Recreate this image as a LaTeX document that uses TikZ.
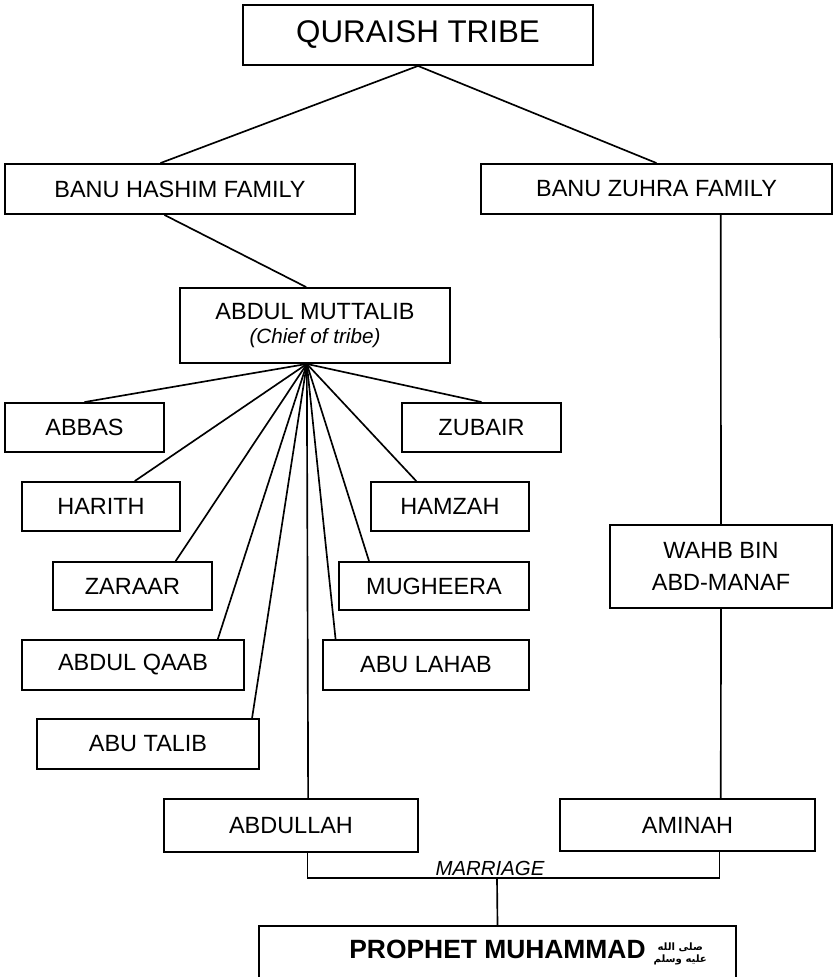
\documentclass[tikz,border=0pt]{standalone}
\usepackage{fontspec}
\setmainfont{Liberation Sans}
\newfontfamily\arabicfont[Script=Arabic]{DejaVu Sans}
\TeXXeTstate=1

\tikzset{
  kinbox/.style 2 args={draw, line width=1.4pt, inner sep=0.75pt, align=center,
    minimum width=#1*0.75pt, minimum height=#2*0.75pt,
    font=\fontsize{17.6}{24}\selectfont},
  kinline/.style={line width=1.25pt},
}

\begin{document}
\begin{tikzpicture}[x=0.75pt,y=0.75pt,yscale=-1,xscale=1]
\useasboundingbox (0,0) rectangle (833,977);
\clip (0,0) rectangle (833,977);
% Text Node
\node [kinbox={350}{60}, font=\fontsize{23.5}{28}\selectfont] (quraish) at (418,35) {QURAISH TRIBE};
% Text Node
\node [kinbox={350}{50}] (hashim) at (180,189) {BANU HASHIM FAMILY};
% Text Node
\node [kinbox={351}{50}] (zuhra) at (656.5,189) {BANU ZUHRA FAMILY};
% Text Node
\node [kinbox={270}{75}, font=\fontsize{17.6}{17.5}\selectfont] (muttalib) at (315,325.5)
  {ABDUL MUTTALIB\\{\itshape\fontsize{15.5}{16}\selectfont (Chief of tribe)}};
% Text Node
\node [kinbox={159}{49}] (abbas) at (84.5,427.5) {ABBAS};
\node [kinbox={158}{49}] (harith) at (101,506.5) {HARITH};
\node [kinbox={159}{48}] (zaraar) at (132.5,586) {ZARAAR};
\node [kinbox={222}{50}] (qaab) at (133,665) {ABDUL QAAB};
\node [kinbox={222}{50}] (talib) at (148,744) {ABU TALIB};
% Text Node
\node [kinbox={159}{49}] (zubair) at (481.5,427.5) {ZUBAIR};
\node [kinbox={158}{49}] (hamzah) at (450,506.5) {HAMZAH};
\node [kinbox={190}{48}] (mugheera) at (434,586) {MUGHEERA};
\node [kinbox={206}{50}] (lahab) at (426,665) {ABU LAHAB};
% Text Node
\node [kinbox={222}{83}] (wahb) at (721,566.5) {WAHB BIN\\ABD-MANAF};
% Text Node
\node [kinbox={254}{53}] (abdullah) at (291,825.5) {ABDULLAH};
\node [kinbox={255}{52}] (aminah) at (687.5,825) {AMINAH};
% Text Node
\node [kinbox={477}{54}, font=\bfseries\fontsize{19.8}{24}\selectfont] (prophet) at (497.5,953)
  {PROPHET MUHAMMAD\rlap{\hspace{6pt}\raisebox{-3pt}{\arabicfont\fontsize{7.6}{8.2}\selectfont
    \shortstack{\beginR صلى الله\endR\\\beginR عليه وسلم\endR}}}};

%Straight Lines
\draw [kinline] (quraish.south) -- (hashim.127.2);
\draw [kinline] (quraish.south) -- (zuhra.north);
\draw [kinline] (hashim.239) -- (muttalib.103.5);
\draw [kinline] (zuhra.338.2) -- (wahb.north);
\draw [kinline] (wahb.south) -- (aminah.39.5);
%Straight Lines
\draw [kinline] (muttalib.258) -- (abbas.north);
\draw [kinline] (muttalib.258) -- (harith.37.4);
\draw [kinline] (muttalib.258) -- (zaraar.30.6);
\draw [kinline] (muttalib.258) -- (qaab.17.6);
\draw [kinline] (muttalib.258) -- (talib.14.3);
\draw [kinline] (muttalib.258) -- (zubair.north);
\draw [kinline] (muttalib.258) -- (hamzah.143.4);
\draw [kinline] (muttalib.258) -- (mugheera.159.1);
\draw [kinline] (muttalib.258) -- (lahab.164);
\draw [kinline] (muttalib.258) -- (abdullah.58.9);
%Marriage
\coordinate (wed) at (497,878);
\draw [kinline] (abdullah.301.1) |- (wed) -| (aminah.320.5);
\draw [kinline] (wed) -- (prophet.north);
\node [anchor=south, inner sep=1.5pt, font=\itshape\fontsize{15.3}{18}\selectfont] (marriage) at (490,878) {MARRIAGE};
\end{tikzpicture}
\end{document}
